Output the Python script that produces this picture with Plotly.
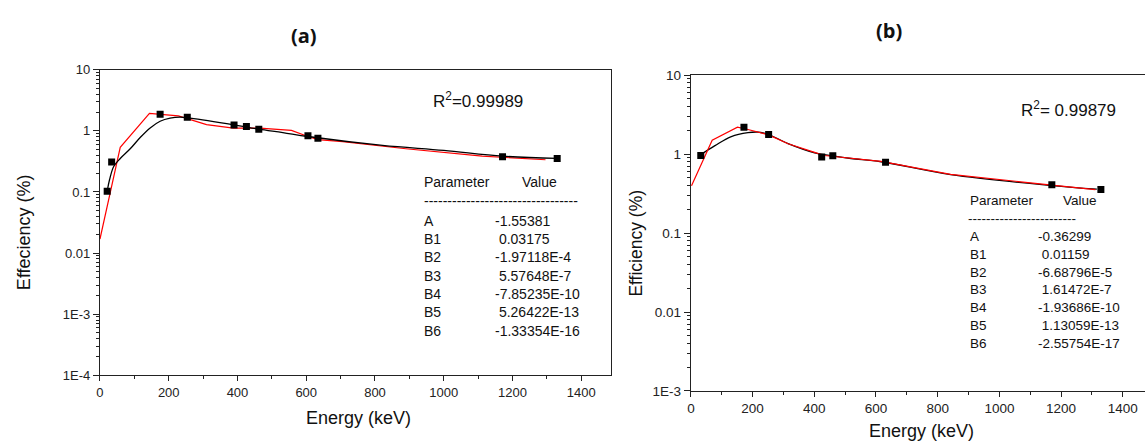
import plotly.graph_objects as go

W, H = 1145, 448

# ---------------- Panel (a) data ----------------
a_energy = [21, 34, 175, 254, 390, 426, 462, 605, 634, 1171, 1330]
a_eff = [0.103, 0.31, 1.87, 1.68, 1.25, 1.18, 1.06, 0.83, 0.76, 0.377, 0.354]

a_fit_energy = [22, 28, 40, 59, 88, 117, 146, 175, 204, 233, 262, 390, 462, 532, 605, 822, 1000, 1171, 1330]
a_fit_eff = [0.11, 0.16, 0.262, 0.354, 0.51, 0.78, 1.12, 1.44, 1.62, 1.68, 1.62, 1.26, 1.07, 0.94, 0.81, 0.58, 0.48, 0.386, 0.354]

a_red_energy = [0, 59, 144, 228, 310, 388, 465, 557, 605, 634, 706, 890, 1112, 1296]
a_red_eff = [0.017, 0.54, 1.94, 1.76, 1.27, 1.11, 1.11, 1.02, 0.81, 0.72, 0.67, 0.51, 0.386, 0.337]

# ---------------- Panel (b) data ----------------
b_energy = [32, 172, 252, 424, 460, 631, 1170, 1329]
b_eff = [0.96, 2.19, 1.77, 0.92, 0.95, 0.787, 0.408, 0.357]

b_fit_energy = [32, 78, 131, 185, 218, 252, 315, 401, 460, 519, 616, 842, 1170, 1316]
b_fit_eff = [0.985, 1.28, 1.67, 1.87, 1.9, 1.77, 1.36, 1.04, 0.95, 0.88, 0.80, 0.55, 0.40, 0.36]

b_red_energy = [2, 69, 151, 185, 252, 315, 401, 433, 616, 842, 1170, 1311]
b_red_eff = [0.397, 1.5, 2.19, 2.05, 1.75, 1.35, 1.05, 0.96, 0.81, 0.555, 0.405, 0.355]

# ---------------- Texts ----------------
param_names = ["A", "B1", "B2", "B3", "B4", "B5", "B6"]
a_param_values = ["-1.55381", " 0.03175", "-1.97118E-4", " 5.57648E-7", "-7.85235E-10", " 5.26422E-13", "-1.33354E-16"]
b_param_values = ["-0.36299", " 0.01159", "-6.68796E-5", " 1.61472E-7", "-1.93686E-10", " 1.13059E-13", "-2.55754E-17"]
a_r2 = "R<sup>2</sup>=0.99989"
b_r2 = "R<sup>2</sup>= 0.99879"

x_ticks = [0, 200, 400, 600, 800, 1000, 1200, 1400]
a_y_ticks = [1e-4, 1e-3, 0.01, 0.1, 1, 10]
a_y_text = ["1E-4", "1E-3", "0.01", "0.1", "1", "10"]
b_y_ticks = [1e-3, 0.01, 0.1, 1, 10]
b_y_text = ["1E-3", "0.01", "0.1", "1", "10"]

FONT = "Liberation Sans"
INK = "#222222"


def px(x):
    return x / W


def py(y):
    return 1 - y / H


def minor_vals(lo, hi):
    vals = []
    for d in range(lo, hi):
        for k in range(2, 10):
            vals.append(round(k * 10 ** d, 10))
    return vals


fig = go.Figure()

# Panel (a)
fig.add_trace(go.Scatter(x=a_red_energy, y=a_red_eff, mode="lines",
                         line=dict(color="#ff0000", width=1.2), xaxis="x", yaxis="y", showlegend=False))
fig.add_trace(go.Scatter(x=a_fit_energy, y=a_fit_eff, mode="lines",
                         line=dict(color="black", width=1.3, shape="spline"), xaxis="x", yaxis="y", showlegend=False))
fig.add_trace(go.Scatter(x=a_energy, y=a_eff, mode="markers",
                         marker=dict(symbol="square", size=7, color="black"), xaxis="x", yaxis="y", showlegend=False))
# empty trace so the minor-tick overlay axis is drawn
fig.add_trace(go.Scatter(x=[None], y=[None], mode="markers", xaxis="x", yaxis="y3", showlegend=False, hoverinfo="skip"))

# Panel (b)
fig.add_trace(go.Scatter(x=b_fit_energy, y=b_fit_eff, mode="lines",
                         line=dict(color="black", width=1.3, shape="spline"), xaxis="x2", yaxis="y2", showlegend=False))
fig.add_trace(go.Scatter(x=b_red_energy, y=b_red_eff, mode="lines",
                         line=dict(color="#ff0000", width=1.2), xaxis="x2", yaxis="y2", showlegend=False))
fig.add_trace(go.Scatter(x=b_energy, y=b_eff, mode="markers",
                         marker=dict(symbol="square", size=7, color="black"), xaxis="x2", yaxis="y2", showlegend=False))
fig.add_trace(go.Scatter(x=[None], y=[None], mode="markers", xaxis="x2", yaxis="y4", showlegend=False, hoverinfo="skip"))

axis_common = dict(showgrid=False, zeroline=False, showline=True, linecolor=INK, linewidth=1.2,
                   ticks="outside", tickcolor=INK, tickwidth=1.2)
xminor = dict(ticks="outside", dtick=100, tick0=0, ticklen=3, tickcolor=INK, tickwidth=1.2, showgrid=False)
overlay_common = dict(showgrid=False, zeroline=False, showline=False, ticks="outside", tickcolor=INK,
                      tickwidth=1, ticklen=3, showticklabels=False, tickmode="array", side="left", type="log")

fig.update_layout(
    width=W, height=H, autosize=False,
    margin=dict(l=0, r=0, t=0, b=0),
    paper_bgcolor="white", plot_bgcolor="white",
    font=dict(family=FONT, color=INK),
    xaxis=dict(domain=[px(96.3), px(609.3)], range=[0, 1487], anchor="y", mirror=True,
               tickmode="array", tickvals=x_ticks, ticklen=5, tickfont=dict(size=13),
               minor=xminor, **axis_common),
    yaxis=dict(domain=[py(381), py(65)], type="log", range=[-4, 1], anchor="x", mirror=True,
               tickmode="array", tickvals=a_y_ticks, ticktext=a_y_text, ticklen=6, tickfont=dict(size=13),
               **axis_common),
    yaxis3=dict(overlaying="y", anchor="x", range=[-4, 1], tickvals=minor_vals(-4, 1), **overlay_common),
    xaxis2=dict(domain=[px(689.3), 1.0], range=[0, 1472], anchor="y2", mirror=True,
                tickmode="array", tickvals=x_ticks, ticklen=5, tickfont=dict(size=13.5),
                minor=xminor, **axis_common),
    yaxis2=dict(domain=[py(397.3), py(70.5)], type="log", range=[-3, 1], anchor="x2", mirror=False,
                tickmode="array", tickvals=b_y_ticks, ticktext=b_y_text, ticklen=6, tickfont=dict(size=13.5),
                **axis_common),
    yaxis4=dict(overlaying="y2", anchor="x2", range=[-3, 1], tickvals=minor_vals(-3, 1), **overlay_common),
)

ann = []


def text(x, y, s, size, xanchor="left", yanchor="middle", bold=False, family=FONT, angle=0):
    ann.append(dict(x=px(x), y=py(y), xref="paper", yref="paper", text=("<b>%s</b>" % s) if bold else s,
                    showarrow=False, xanchor=xanchor, yanchor=yanchor, textangle=angle,
                    font=dict(size=size, family=family, color="#111111")))


# Titles
text(301, 29, "(a)", 20, xanchor="center", bold=True, family="Open Sans")
text(888, 24, "(b)", 20, xanchor="center", bold=True, family="Open Sans")

# Axis titles
text(356, 425, "Energy (keV)", 18, xanchor="center")
text(20, 233, "Effeciency (%)", 18, xanchor="center", angle=-90)
text(921, 439, "Energy (keV)", 18, xanchor="center")
text(634, 244, "Efficiency (%)", 17.5, xanchor="center", angle=-90)

# R^2
text(428.6, 96, a_r2, 17)
text(1019, 106, b_r2, 17)

# Parameter table (a)
text(419.5, 181, "Parameter", 14)
text(517.7, 181, "Value", 14)
text(419.3, 201, "-" * 33, 14)
for i, (n, v) in enumerate(zip(param_names, a_param_values)):
    text(419.5, 221 + 19 * i, n, 14)
    text(490.7, 221 + 19 * i, v.replace(" ", "&nbsp;"), 14)

# Parameter table (b)
text(967.4, 200, "Parameter", 13.5)
text(1061, 200, "Value", 13.5)
text(965, 219, "-" * 24, 13.5)
for i, (n, v) in enumerate(zip(param_names, b_param_values)):
    text(967.4, 237.5 + 18.4 * i, n, 13.5)
    text(1036, 237.5 + 18.4 * i, v.replace(" ", "&nbsp;"), 13.5)

fig.update_layout(annotations=ann)

fig.write_html("out.html", config={"displayModeBar": False},
               post_script="document.body.style.margin='0';document.body.style.overflow='hidden';")
